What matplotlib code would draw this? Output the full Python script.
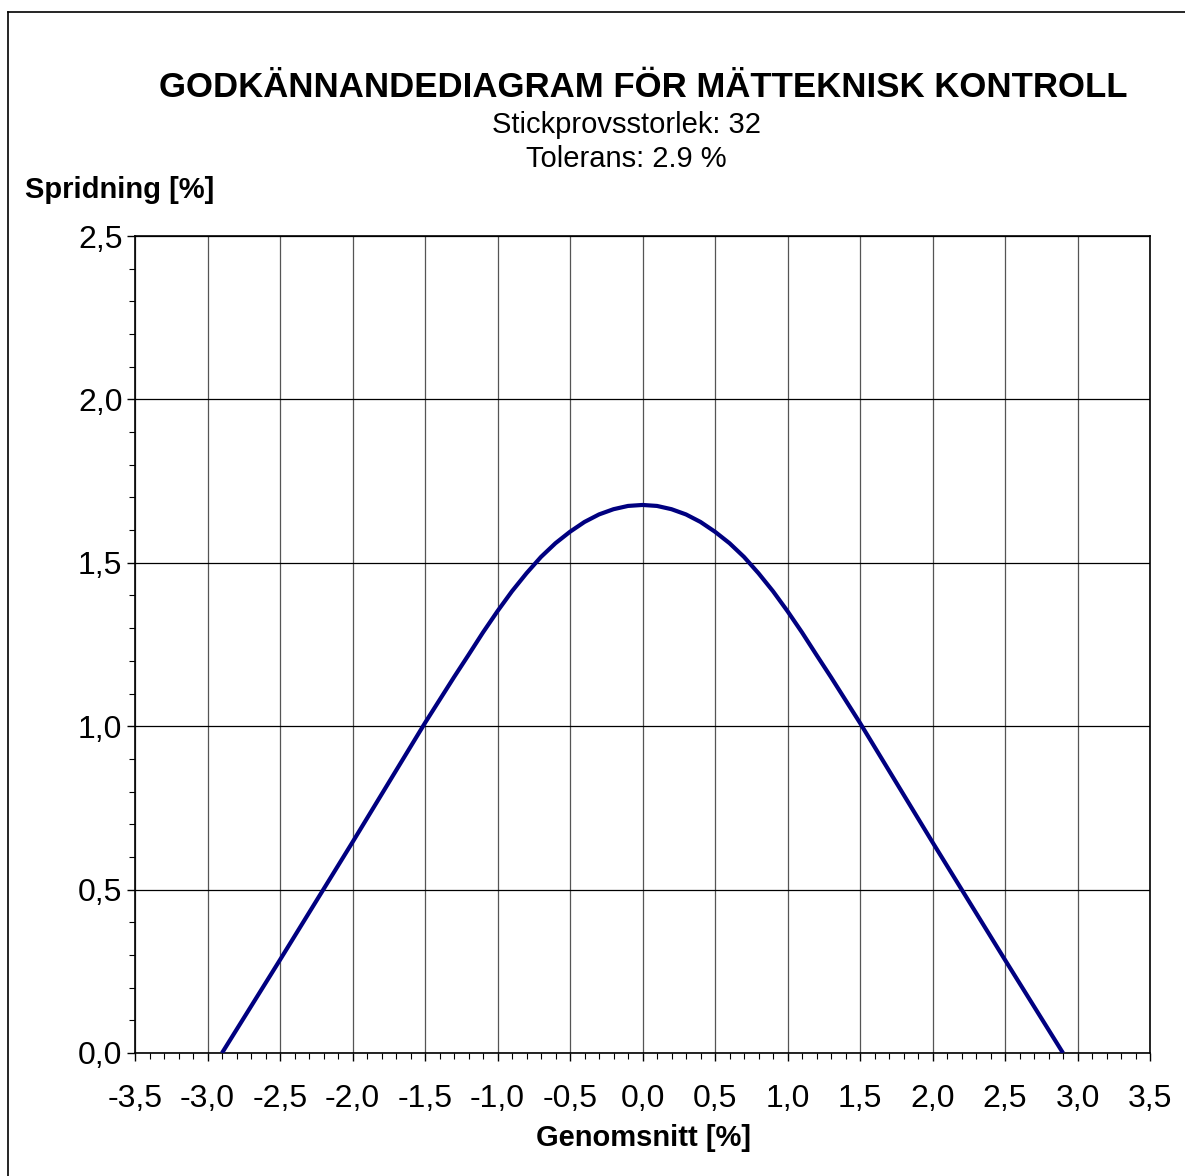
import matplotlib
matplotlib.use("Agg")
import matplotlib.pyplot as plt
from matplotlib.lines import Line2D
from matplotlib.ticker import MultipleLocator, FuncFormatter

plt.rcParams['font.family'] = ['Liberation Sans', 'DejaVu Sans']

# acceptance curve (symmetric around 0)
mean_pct = [-2.9, -2.5, -2.0, -1.5, -1.4, -1.3, -1.2, -1.1, -1.0, -0.9, -0.8,
            -0.7, -0.6, -0.5, -0.4, -0.3, -0.2, -0.1, 0.0,
            0.1, 0.2, 0.3, 0.4, 0.5, 0.6, 0.7, 0.8, 0.9, 1.0,
            1.1, 1.2, 1.3, 1.4, 1.5, 2.0, 2.5, 2.9]
spread_pct = [0.0, 0.285, 0.645, 1.01, 1.08, 1.15, 1.218, 1.287, 1.352, 1.413, 1.468,
              1.518, 1.56, 1.595, 1.625, 1.648, 1.664, 1.674, 1.677,
              1.674, 1.664, 1.648, 1.625, 1.595, 1.56, 1.518, 1.468, 1.413, 1.352,
              1.287, 1.218, 1.15, 1.08, 1.01, 0.645, 0.285, 0.0]

title = "GODKÄNNANDEDIAGRAM FÖR MÄTTEKNISK KONTROLL"
subtitle_lines = ["Stickprovsstorlek: 32", "Tolerans: 2.9 %"]
x_label = "Genomsnitt [%]"
y_label = "Spridning [%]"

W, H = 1185, 1176
fig = plt.figure(figsize=(W / 100, H / 100), dpi=100)
ax = fig.add_axes([135 / W, 1 - 1053 / H, (1150 - 135) / W, (1053 - 236) / H])

ax.set_xlim(-3.5, 3.5)
ax.set_ylim(0, 2.5)
ax.xaxis.set_major_locator(MultipleLocator(0.5))
ax.xaxis.set_minor_locator(MultipleLocator(0.1))
ax.yaxis.set_major_locator(MultipleLocator(0.5))
ax.yaxis.set_minor_locator(MultipleLocator(0.1))
comma = FuncFormatter(lambda v, _: f"{v:.1f}".replace(".", ",").replace("-0,0", "0,0"))
ax.xaxis.set_major_formatter(comma)
ax.yaxis.set_major_formatter(comma)

ax.tick_params(which="major", direction="out", length=6, width=1, labelsize=23,
               top=False, right=False)
ax.tick_params(axis="x", which="major", pad=16)
ax.tick_params(axis="y", which="major", pad=3)
ax.tick_params(which="minor", direction="out", length=4, width=0.8,
               top=False, right=False)

ax.grid(axis="x", which="major", color="#555555", linewidth=0.9)
ax.grid(axis="y", which="major", color="black", linewidth=0.9)
for s in ax.spines.values():
    s.set_linewidth(1.2)
    s.set_color("black")

ax.plot(mean_pct, spread_pct, color="#000080", linewidth=3.0, zorder=3,
        solid_capstyle="butt", solid_joinstyle="round")

# texts
fig.text(643 / W, 1 - 97 / H, title, ha="center", va="baseline",
         fontsize=25, fontweight="bold")
fig.text(626 / W, 1 - 133 / H, subtitle_lines[0], ha="center", va="baseline",
         fontsize=21)
fig.text(626 / W, 1 - 167 / H, subtitle_lines[1], ha="center", va="baseline",
         fontsize=21)
fig.text(25 / W, 1 - 198 / H, y_label, ha="left", va="baseline",
         fontsize=21, fontweight="bold")
fig.text(643 / W, 1 - 1146 / H, x_label, ha="center", va="baseline",
         fontsize=21, fontweight="bold")

# frame round the figure (only top and left edges visible in the reference)
fx, fy = 8 / W, 1 - 12 / H
fig.add_artist(Line2D([fx, 1], [fy, fy], color="black", linewidth=1.2,
                      transform=fig.transFigure))
fig.add_artist(Line2D([fx, fx], [0, fy], color="black", linewidth=1.2,
                      transform=fig.transFigure))

fig.savefig("out.png", dpi=100)
